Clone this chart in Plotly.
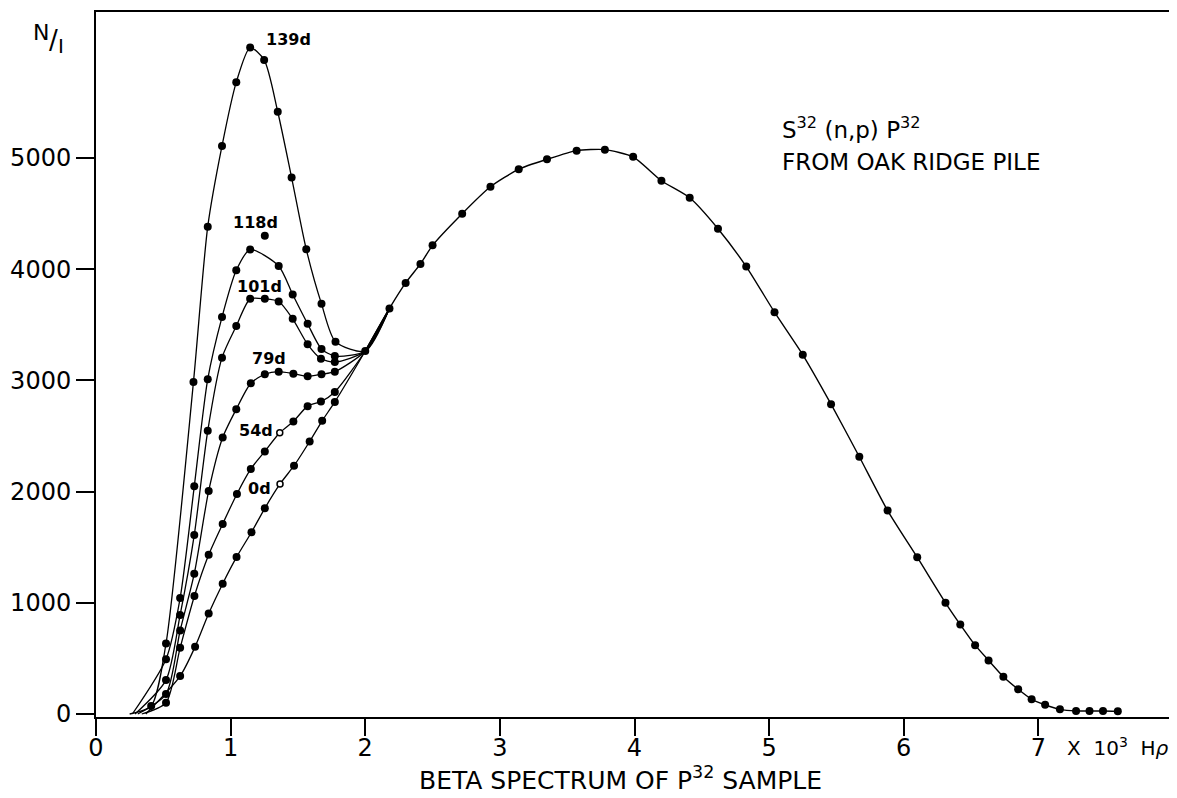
import plotly.graph_objects as go

# ---------------- data (x in 10^3 H-rho, y in N/I) ----------------
main_x = [2.0, 2.18, 2.30, 2.41, 2.50, 2.72, 2.93, 3.14, 3.35, 3.57, 3.78, 3.99, 4.20, 4.41,
          4.62, 4.83, 5.04, 5.25, 5.46, 5.67, 5.88, 6.10, 6.31, 6.42, 6.53, 6.63, 6.74, 6.85,
          6.95, 7.05, 7.16, 7.28, 7.38, 7.48, 7.59]
main_y = [3265, 3648, 3877, 4048, 4215, 4500, 4742, 4900, 4989, 5067, 5076, 5011, 4796, 4643,
          4365, 4024, 3614, 3231, 2787, 2314, 1830, 1410, 1000, 804, 619, 482, 335, 222,
          132, 83, 42, 27, 27, 27, 24]

d139_x = [0.41, 0.52, 0.724, 0.83, 0.936, 1.042, 1.145, 1.249, 1.35, 1.453, 1.562, 1.675, 1.779]
d139_y = [72, 634, 2987, 4383, 5109, 5683, 5994, 5883, 5417, 4825, 4179, 3689, 3348]

d118_x = [0.52, 0.625, 0.73, 0.83, 0.936, 1.042, 1.145, 1.254, 1.357, 1.461, 1.572, 1.675, 1.774]
d118_y = [493, 1043, 2048, 3011, 3570, 3991, 4177, 4302, 4030, 3773, 3509, 3283, 3220]

d101_x = [0.52, 0.625, 0.73, 0.83, 0.936, 1.042, 1.145, 1.254, 1.357, 1.461, 1.572, 1.671, 1.774]
d101_y = [305, 891, 1611, 2547, 3205, 3489, 3734, 3734, 3710, 3554, 3325, 3196, 3166]

d79_x = [0.52, 0.625, 0.73, 0.837, 0.941, 1.042, 1.15, 1.254, 1.357, 1.466, 1.572, 1.675, 1.774]
d79_y = [179, 751, 1262, 2006, 2487, 2742, 2975, 3056, 3079, 3061, 3038, 3056, 3079]

d54_x = [0.52, 0.625, 0.731, 0.837, 0.941, 1.047, 1.15, 1.254, 1.365, 1.466, 1.572, 1.671, 1.774]
d54_y = [101, 595, 1061, 1432, 1710, 1979, 2204, 2362, 2529, 2631, 2769, 2810, 2897]

d0_x = [0.625, 0.736, 0.837, 0.941, 1.044, 1.155, 1.254, 1.367, 1.471, 1.587, 1.68, 1.774]
d0_y = [341, 604, 903, 1172, 1411, 1635, 1850, 2069, 2233, 2451, 2637, 2807]

# where each curve leaves the axis
starts = {"139d": 0.25, "118d": 0.27, "101d": 0.29, "79d": 0.31, "54d": 0.34, "0d": 0.37}
# off-curve dots (drawn as dots but skipped by the line)
skip = {"139d": [], "118d": [1.254], "101d": [], "79d": [], "54d": [], "0d": []}
# small open circles
open_pts = {"54d": 1.365, "0d": 1.367}

curves = [("139d", d139_x, d139_y), ("118d", d118_x, d118_y), ("101d", d101_x, d101_y),
          ("79d", d79_x, d79_y), ("54d", d54_x, d54_y), ("0d", d0_x, d0_y)]

fig = go.Figure()

# main curve
fig.add_trace(go.Scatter(x=main_x, y=main_y, mode="lines", line=dict(color="black", width=1.4, shape="spline", smoothing=0.6),
                         hoverinfo="skip"))
fig.add_trace(go.Scatter(x=main_x, y=main_y, mode="markers", marker=dict(color="black", size=8)))

for name, xs, ys in curves:
    lx = [starts[name]] + [x for x in xs if x not in skip[name]] + main_x[:2]
    ly = [0] + [y for x, y in zip(xs, ys) if x not in skip[name]] + main_y[:2]
    fig.add_trace(go.Scatter(x=lx, y=ly, mode="lines", line=dict(color="black", width=1.3, shape="spline", smoothing=0.7),
                             hoverinfo="skip"))
    op = open_pts.get(name)
    fx = [x for x in xs if x != op]
    fy = [y for x, y in zip(xs, ys) if x != op]
    fig.add_trace(go.Scatter(x=fx, y=fy, mode="markers", marker=dict(color="black", size=8), name=name))
    if op is not None:
        fig.add_trace(go.Scatter(x=[op], y=[ys[xs.index(op)]], mode="markers",
                                 marker=dict(color="white", size=6, line=dict(color="black", width=1.5))))

# page has an 8px body margin, so work in page pixels and shift
OFF = 8
W, H = 1177 - OFF, 798 - OFF
L, R, T, B = 93 - OFF, 3, 10 - OFF, 81
pw, ph = W - L - R, H - T - B


def px(x, y):
    return (x - OFF - L) / pw, (H - B - (y - OFF)) / ph


def note(text, x, y, size, xanchor="center", bold=False):
    ax, ay = px(x, y)
    if bold:
        text = "<b>" + text + "</b>"
    fig.add_annotation(text=text, x=ax, y=ay, xref="paper", yref="paper", showarrow=False,
                       xanchor=xanchor, yanchor="middle", font=dict(size=size, color="black"))


# curve labels
for txt, x, y in [("139d", 286, 38), ("118d", 253, 221), ("101d", 257, 285),
                  ("79d", 267, 357), ("54d", 254, 430), ("0d", 257, 488)]:
    note(txt, x, y, 16, bold=True)

note("S<sup>32</sup> (n,p) P<sup>32</sup>", 780, 126, 23, xanchor="left")
note("FROM OAK RIDGE PILE", 780, 160, 23, xanchor="left")
note("BETA SPECTRUM OF P<sup>32</sup> SAMPLE", 619, 779, 25)
note("X  10<sup>3</sup>  H<i>ρ</i>", 1066, 747, 20, xanchor="left")
note("N", 38, 31, 22)
note("/", 50, 38, 26)
note("I", 58, 44, 20)

fig.update_layout(
    width=W, height=H, margin=dict(l=L, r=R, t=T, b=B),
    paper_bgcolor="white", plot_bgcolor="white", showlegend=False,
    font=dict(family="DejaVu Sans", color="black"),
    xaxis=dict(range=[0, 8.0], tickvals=[0, 1, 2, 3, 4, 5, 6, 7], ticks="outside", ticklen=17, tickwidth=1.5,
               tickcolor="black", showgrid=False, zeroline=False, showline=True, mirror=True, linecolor="black",
               linewidth=2, tickfont=dict(size=24), ticklabelstandoff=-9),
    yaxis=dict(range=[-27, 6314], tickvals=[0, 1000, 2000, 3000, 4000, 5000], ticks="outside", ticklen=18,
               tickwidth=1.5, tickcolor="black", showgrid=False, zeroline=False, showline=True, mirror=True,
               linecolor="black", linewidth=2, tickfont=dict(size=24)),
)

fig.write_html("out.html")
